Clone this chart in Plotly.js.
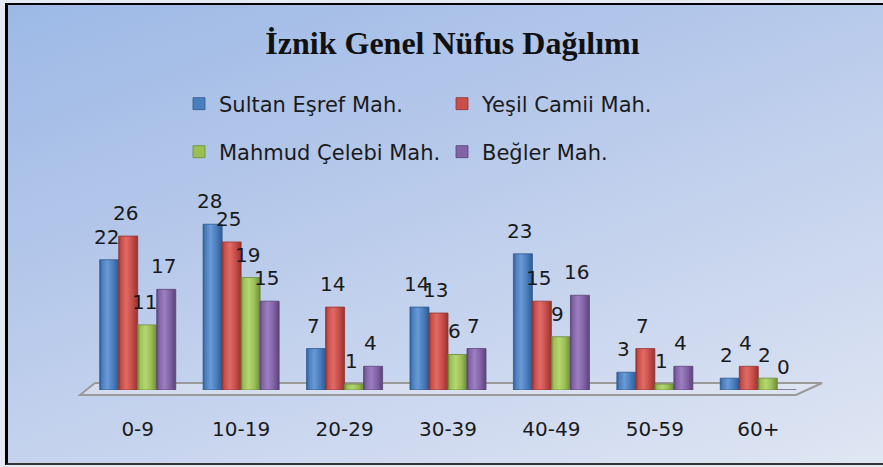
<!DOCTYPE html>
<html>
<head>
<meta charset="utf-8">
<script src="https://cdn.plot.ly/plotly-3.0.1.min.js"></script>
<style>
  html, body { margin: 0; padding: 0; background: #e4e9f2; }
  #frame {
    position: absolute; left: 0; top: 0; width: 883px; height: 467px;
    overflow: hidden;
  }
  #bg {
    position: absolute; left: 5px; top: 3px; width: 878px; height: 462px;
    box-sizing: border-box;
    border-left: 3px solid #000; border-top: 2px solid #000; border-bottom: 2px solid #333;
    background: linear-gradient(160deg, #9cb9e6 0%, #b4c7ea 35%, #c8d5ee 65%, #dfe6f3 100%);
  }
  #chart { position: absolute; left: 0; top: 0; width: 883px; height: 467px; }
</style>
</head>
<body>
<div id="frame">
  <div id="bg"></div>
  <div id="chart"></div>
</div>
<script>
const categories = ['0-9', '10-19', '20-29', '30-39', '40-49', '50-59', '60+'];
const seriesNames = ['Sultan Eşref Mah.', 'Yeşil Camii Mah.', 'Mahmud Çelebi Mah.', 'Beğler Mah.'];
const sultanEsref = [22, 28, 7, 14, 23, 3, 2];
const yesilCamii = [26, 25, 14, 13, 15, 7, 4];
const mahmudCelebi = [11, 19, 1, 6, 9, 1, 2];
const begler = [17, 15, 4, 7, 16, 4, 0];

const seriesValues = [sultanEsref, yesilCamii, mahmudCelebi, begler];
const colors = ['#4a7ebf', '#c94d48', '#9bbf55', '#8263a6'];
const lights = ['#6a9ad6', '#df6b66', '#b5d672', '#9c7fc0'];
const darks = ['#2f5a90', '#923531', '#6d8c38', '#5a4479'];
const BARGAP = 0.265;
const FONT = 'DejaVu Sans, Liberation Sans, sans-serif';

const traces = seriesValues.map((vals, i) => ({
  type: 'bar',
  name: seriesNames[i],
  x: categories,
  y: vals,
  marker: { color: colors[i], line: { color: darks[i], width: 0.8 } },
  legend: i < 2 ? 'legend' : 'legend2',
  hoverinfo: 'x+y+name'
}));

const bw = (1 - BARGAP) / 4;
const annotations = [];
seriesValues.forEach((vals, i) => {
  vals.forEach((v, j) => {
    annotations.push({
      x: j + (i - 1.5) * bw,
      y: v,
      xref: 'x', yref: 'y',
      text: String(v),
      showarrow: false,
      yanchor: 'bottom',
      xanchor: 'center',
      yshift: 9,
      xshift: -3,
      font: { family: FONT, size: 20, color: '#1a1a1a' }
    });
  });
});

const legendCommon = {
  orientation: 'h',
  xref: 'container', yref: 'container',
  xanchor: 'left', yanchor: 'middle',
  bgcolor: 'rgba(0,0,0,0)',
  borderwidth: 0,
  font: { family: FONT, size: 21, color: '#1a1a1a' },
  entrywidth: 218,
  entrywidthmode: 'pixels',
  traceorder: 'normal'
};

const layout = {
  width: 883, height: 467,
  paper_bgcolor: 'rgba(0,0,0,0)',
  plot_bgcolor: 'rgba(0,0,0,0)',
  margin: { l: 86, r: 73, t: 190, b: 77, pad: 0 },
  barmode: 'group',
  bargap: BARGAP,
  bargroupgap: 0,
  title: {
    text: '<b>İznik Genel Nüfus Dağılımı</b>',
    font: { family: 'Liberation Serif, Times New Roman, serif', size: 32, color: '#111' },
    x: 452.5 / 883, xref: 'container', xanchor: 'center',
    y: 1 - 43 / 467, yref: 'container', yanchor: 'middle'
  },
  showlegend: true,
  legend: Object.assign({}, legendCommon, { x: 179 / 883, y: 1 - 104 / 467 }),
  legend2: Object.assign({}, legendCommon, { x: 179 / 883, y: 1 - 152 / 467 }),
  xaxis: {
    type: 'category',
    showline: false, showgrid: false, zeroline: false,
    ticks: 'outside', ticklen: 21, tickcolor: 'rgba(0,0,0,0)',
    tickfont: { family: FONT, size: 20, color: '#1a1a1a' }
  },
  yaxis: {
    range: [0, 200 / 5.92],
    visible: false, showgrid: false, zeroline: false
  },
  shapes: [{
    type: 'path', xref: 'paper', yref: 'paper', layer: 'below',
    path: 'M -0.0083 -0.025 L 0.9807 -0.025 L 1.0166 0.035 L 0.0124 0.035 Z',
    fillcolor: 'rgba(225,230,240,0.55)',
    line: { color: '#9a9a9a', width: 2 }
  }],
  annotations: annotations
};

Plotly.newPlot('chart', traces, layout, { displayModeBar: false, staticPlot: true }).then(gd => {
  // cylinder-like shading for the bars
  const svgNS = 'http://www.w3.org/2000/svg';
  const svg = gd.querySelector('.main-svg');
  let defs = svg.querySelector('defs');
  if (!defs) { defs = document.createElementNS(svgNS, 'defs'); svg.insertBefore(defs, svg.firstChild); }
  colors.forEach((c, i) => {
    const g = document.createElementNS(svgNS, 'linearGradient');
    g.setAttribute('id', 'cyl' + i);
    g.setAttribute('x1', '0'); g.setAttribute('x2', '1');
    g.setAttribute('y1', '0'); g.setAttribute('y2', '0');
    [[0, darks[i]], [0.12, c], [0.4, lights[i]], [0.7, c], [1, darks[i]]].forEach(([o, col]) => {
      const s = document.createElementNS(svgNS, 'stop');
      s.setAttribute('offset', o);
      s.setAttribute('stop-color', col);
      g.appendChild(s);
    });
    defs.appendChild(g);
  });
  gd.querySelectorAll('.barlayer .trace').forEach((tr, i) => {
    tr.querySelectorAll('.point path').forEach(p => {
      p.style.fill = 'url(#cyl' + i + ')';
    });
  });
});
</script>
</body>
</html>
